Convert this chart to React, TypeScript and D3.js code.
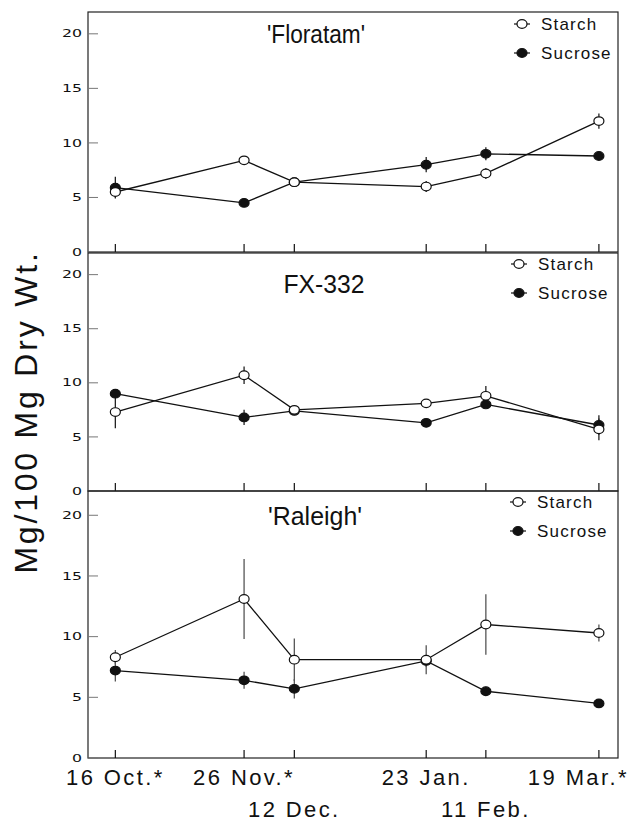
import { useEffect, useRef } from 'react'
import * as d3 from 'd3'

const svgWidth = 630
const svgHeight = 821

// * Sampling dates and their axis labels
const dates = ['1990-10-16', '1990-11-26', '1990-12-12', '1991-01-23', '1991-02-11', '1991-03-19']
const dateLabels = ['16 Oct.*', '26 Nov.*', '12 Dec.', '23 Jan.', '11 Feb.', '19 Mar.*']
const labelRow = [0, 0, 1, 0, 1, 0]

const yTicks = [0, 5, 10, 15, 20]
const seriesNames = ['Starch', 'Sucrose']
const cultivars = ["'Floratam'", 'FX-332', "'Raleigh'"]

// * Values (mg / 100 mg dry wt.), with error bar half-lengths
const floratamStarch = [5.5, 8.4, 6.4, 6.0, 7.2, 12.0]
const floratamStarchErr = [0.5, 0.2, 0.3, 0.5, 0.5, 0.7]
const floratamSucrose = [5.9, 4.5, 6.4, 8.0, 9.0, 8.8]
const floratamSucroseErr = [1.0, 0.2, 0.2, 0.7, 0.6, 0]

const fx332Starch = [7.3, 10.7, 7.5, 8.1, 8.8, 5.7]
const fx332StarchErr = [1.5, 0.8, 0.2, 0.3, 0.9, 1.0]
const fx332Sucrose = [9.0, 6.8, 7.4, 6.3, 8.0, 6.1]
const fx332SucroseErr = [0.3, 0.7, 0.2, 0.2, 0.3, 0.9]

const raleighStarch = [8.3, 13.1, 8.1, 8.1, 11.0, 10.3]
const raleighStarchErr = [0.6, 3.3, 1.75, 1.2, 2.5, 0.7]
const raleighSucrose = [7.2, 6.4, 5.7, 8.0, 5.5, 4.5]
const raleighSucroseErr = [0.9, 0.7, 0.8, 0.5, 0.4, 0.2]

interface Point {
  date: Date
  value: number
  err: number
}

export default function App() {
  const ref = useRef<SVGSVGElement | null>(null)

  useEffect(() => {
    document.body.style.margin = '0'
    const svg = d3.select(ref.current)
    svg.selectAll('*').remove()

    const parse = d3.timeParse('%Y-%m-%d')
    const when = dates.map((d) => parse(d)!)

    const left = 88
    const right = 618

    // * panel layout (title box + legend offsets)
    const panels = [
      { name: cultivars[0], top: 12, bottom: 252, titleX: 316, titleDy: 31, titleW: 98,
        starch: floratamStarch, starchErr: floratamStarchErr, sucrose: floratamSucrose, sucroseErr: floratamSucroseErr,
        legendX: 522, legendDy: 12 },
      { name: cultivars[1], top: 253, bottom: 491, titleX: 324, titleDy: 40, titleW: 81,
        starch: fx332Starch, starchErr: fx332StarchErr, sucrose: fx332Sucrose, sucroseErr: fx332SucroseErr,
        legendX: 519, legendDy: 11 },
      { name: cultivars[2], top: 491, bottom: 758, titleX: 315, titleDy: 34, titleW: 94,
        starch: raleighStarch, starchErr: raleighStarchErr, sucrose: raleighSucrose, sucroseErr: raleighSucroseErr,
        legendX: 518, legendDy: 11 },
    ]

    const xScale = d3
      .scaleTime()
      .domain([d3.timeHour.offset(when[0], -209), d3.timeHour.offset(when[when.length - 1], 146)])
      .range([left, right])

    const ink = '#111'

    panels.forEach((p, pi) => {
      const yScale = d3.scaleLinear().domain([0, 22]).range([p.bottom, p.top])
      const g = svg.append('g')

      // * frame
      g.append('rect')
        .attr('x', left)
        .attr('y', p.top)
        .attr('width', right - left)
        .attr('height', p.bottom - p.top)
        .attr('fill', 'none')
        .attr('stroke', '#222')
        .attr('stroke-width', 1.2)

      // * y ticks (inward) + labels
      yTicks.forEach((t) => {
        g.append('line')
          .attr('x1', left)
          .attr('x2', left + 10)
          .attr('y1', yScale(t))
          .attr('y2', yScale(t))
          .attr('stroke', '#777')
          .attr('stroke-width', 1)
        const label = String(t)
        g.append('text')
          .attr('x', 82)
          .attr('y', yScale(t) + 3.6)
          .attr('text-anchor', 'end')
          .attr('font-family', 'DejaVu Sans')
          .attr('font-size', 10)
          .attr('textLength', label.length * 10)
          .attr('lengthAdjust', 'spacingAndGlyphs')
          .attr('fill', ink)
          .text(label)
      })

      // * x ticks (inward, at panel bottom)
      when.forEach((d) => {
        g.append('line')
          .attr('x1', xScale(d))
          .attr('x2', xScale(d))
          .attr('y1', p.bottom)
          .attr('y2', p.bottom - 8)
          .attr('stroke', ink)
          .attr('stroke-width', 1.2)
      })

      // * title
      g.append('text')
        .attr('x', p.titleX)
        .attr('y', p.top + p.titleDy)
        .attr('text-anchor', 'middle')
        .attr('font-family', 'Liberation Sans, Arial, sans-serif')
        .attr('font-size', 25)
        .attr('textLength', p.titleW)
        .attr('lengthAdjust', 'spacingAndGlyphs')
        .attr('fill', ink)
        .text(p.name)

      const starchPts: Point[] = when.map((d, i) => ({ date: d, value: p.starch[i], err: p.starchErr[i] }))
      const sucrosePts: Point[] = when.map((d, i) => ({ date: d, value: p.sucrose[i], err: p.sucroseErr[i] }))

      const line = d3
        .line<Point>()
        .x((d) => xScale(d.date))
        .y((d) => yScale(d.value))

      const series = [
        { pts: sucrosePts, fill: ink },
        { pts: starchPts, fill: '#fff' },
      ]

      series.forEach((s) => {
        g.append('path')
          .datum(s.pts)
          .attr('d', line)
          .attr('fill', 'none')
          .attr('stroke', ink)
          .attr('stroke-width', 1.3)
      })

      series.forEach((s) => {
        g.selectAll(null)
          .data(s.pts.filter((d) => d.err > 0))
          .enter()
          .append('line')
          .attr('x1', (d) => xScale(d.date))
          .attr('x2', (d) => xScale(d.date))
          .attr('y1', (d) => yScale(d.value - d.err))
          .attr('y2', (d) => yScale(d.value + d.err))
          .attr('stroke', pi === 2 ? '#555' : '#222')
          .attr('stroke-width', 1.3)
      })

      series.forEach((s) => {
        g.selectAll(null)
          .data(s.pts)
          .enter()
          .append('ellipse')
          .attr('cx', (d) => xScale(d.date))
          .attr('cy', (d) => yScale(d.value))
          .attr('rx', 5)
          .attr('ry', 4.3)
          .attr('fill', s.fill)
          .attr('stroke', ink)
          .attr('stroke-width', 1.2)
      })

      // * legend
      seriesNames.forEach((n, i) => {
        const ly = p.top + p.legendDy + i * 29
        g.append('line')
          .attr('x1', p.legendX - 8)
          .attr('x2', p.legendX + 8)
          .attr('y1', ly)
          .attr('y2', ly)
          .attr('stroke', ink)
          .attr('stroke-width', 1.2)
        g.append('ellipse')
          .attr('cx', p.legendX)
          .attr('cy', ly)
          .attr('rx', 5)
          .attr('ry', 4.3)
          .attr('fill', i === 0 ? '#fff' : ink)
          .attr('stroke', ink)
          .attr('stroke-width', 1.2)
        g.append('text')
          .attr('x', p.legendX + 19)
          .attr('y', ly + 6)
          .attr('font-family', 'Liberation Sans, Arial, sans-serif')
          .attr('font-size', 17)
          .attr('letter-spacing', 1.2)
          .attr('fill', ink)
          .text(n)
      })
    })

    // * x axis labels under the last panel (two rows)
    const xl = svg
      .selectAll('.xlabel')
      .data(dateLabels)
      .enter()
      .append('text')
      .attr('class', 'xlabel')
      .attr('x', (d, i) => xScale(when[i]))
      .attr('y', (d, i) => (labelRow[i] === 0 ? 785 : 817))
      .attr('text-anchor', 'middle')
      .attr('font-family', 'Liberation Sans, Arial, sans-serif')
      .attr('font-size', 22)
      .attr('letter-spacing', 2.4)
      .attr('fill', ink)
      .text((d) => d)

    // * keep the last label inside the picture
    xl.each(function (d, i) {
      const w = (this as SVGTextElement).getComputedTextLength()
      const x = xScale(when[i])
      if (x + w / 2 > svgWidth - 1) d3.select(this).attr('x', svgWidth - 1 - w / 2)
    })

    // * y axis title
    svg.append('text')
      .attr('transform', 'translate(37, 412) rotate(-90)')
      .attr('text-anchor', 'middle')
      .attr('font-family', 'Liberation Sans, Arial, sans-serif')
      .attr('font-size', 32)
      .attr('letter-spacing', 2.8)
      .attr('fill', ink)
      .text('Mg/100 Mg Dry Wt.')
  }, [])

  return <svg ref={ref} width={svgWidth} height={svgHeight} style={{ display: 'block', background: '#fff' }} />
}
